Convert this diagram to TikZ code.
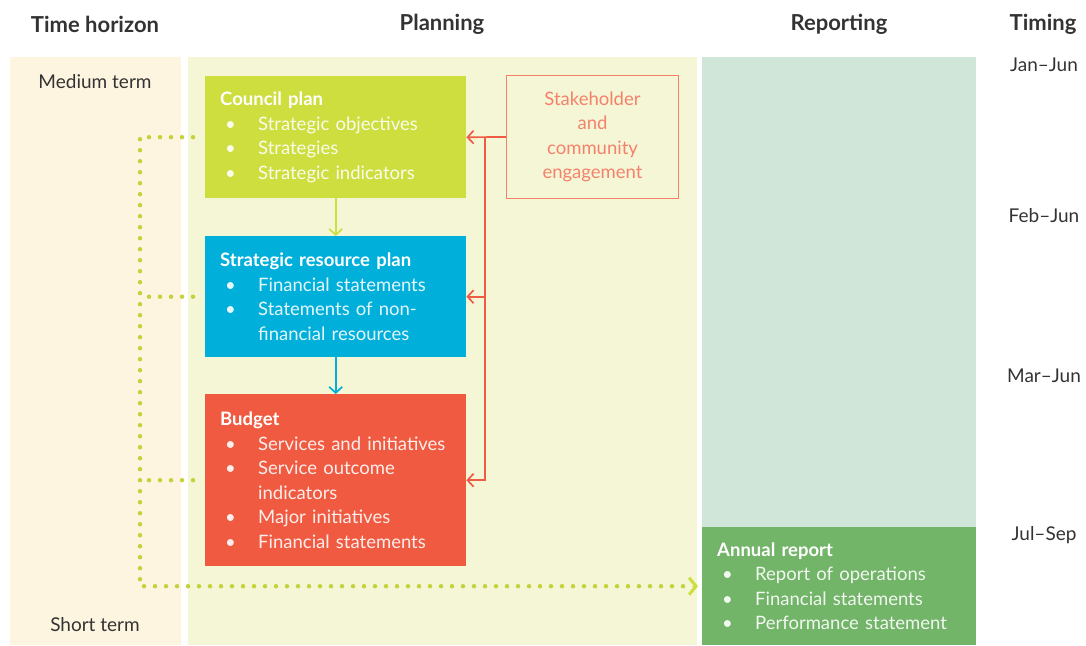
\documentclass[tikz,border=0pt]{standalone}
\usepackage{fontspec}
\setmainfont{Lato}
\usepackage{xcolor}
\usetikzlibrary{arrows.meta}

\definecolor{horizoncol}{HTML}{FDF5E0}
\definecolor{planningcol}{HTML}{F5F6D6}
\definecolor{reportingcol}{HTML}{CFE6D8}
\definecolor{annualgreen}{HTML}{72B468}
\definecolor{councilgreen}{HTML}{CEDE3F}
\definecolor{resourceblue}{HTML}{00AFDA}
\definecolor{budgetred}{HTML}{EF5A41}
\definecolor{stakered}{HTML}{F4826B}
\definecolor{arrowred}{HTML}{EE5C45}
\definecolor{labelgray}{HTML}{333333}

\newcommand{\itm}[1]{\makebox[38pt][l]{\hspace{5pt}\textbullet}#1}
\newcommand{\cont}[1]{\hspace*{38pt}#1}

\tikzset{
  box/.style={anchor=north west, minimum width=261pt, text width=231pt, inner xsep=15pt,
    align=left, text=white, font=\fontsize{18.5}{24.5}\selectfont},
  head/.style={text=labelgray, font=\fontsize{22}{26}\selectfont\bfseries},
  tlabel/.style={text=labelgray, font=\fontsize{19}{22}\selectfont},
  dotline/.style={councilgreen!95!black, line width=4.5pt, dash pattern=on 0pt off 11pt, line cap=round},
  redline/.style={arrowred, line width=1.7pt},
  barb/.style={-{Straight Barb[length=6pt,width=13pt,line width=1.7pt]}}
}

\begin{document}
\begin{tikzpicture}[x=1pt,y=-1pt]
\useasboundingbox (0,0) rectangle (1086,645);

\fill[horizoncol] (10,57) rectangle (181,645);
\fill[planningcol] (188,57) rectangle (697,645);
\fill[reportingcol] (702,57) rectangle (976,527);

\node[head] (horizon) at (95,24) {Time horizon};
\node[head] (planning) at (442,24) {Planning};
\node[head] (reporting) at (839,24) {Reporting};
\node[head] (timing) at (1043,24) {Timing};

\node[tlabel] (medium) at (95,82) {Medium term};
\node[tlabel] (short) at (95,625) {Short term};

\node[tlabel] (janjun) at (1044,65) {Jan–Jun};
\node[tlabel] (febjun) at (1044,216) {Feb–Jun};
\node[tlabel] (marjun) at (1044,376) {Mar–Jun};
\node[tlabel] (julsep) at (1044,535) {Jul–Sep};

\node[box, fill=councilgreen, minimum height=122pt] (council) at (205,76) {
\textbf{Council plan}\\
\color{white!90!councilgreen}
\itm{Strategic objectives}\\
\itm{Strategies}\\
\itm{Strategic indicators}};

\node[box, fill=resourceblue, minimum height=121pt] (resource) at (205,236) {
\textbf{Strategic resource plan}\\
\color{white!90!resourceblue}
\itm{Financial statements}\\
\itm{Statements of non-}\\
\cont{financial resources}};

\node[box, fill=budgetred, minimum height=172pt] (budget) at (205,394) {
\textbf{Budget}\\
\color{white!90!budgetred}
\itm{Services and initiatives}\\
\itm{Service outcome}\\
\cont{indicators}\\
\itm{Major initiatives}\\
\itm{Financial statements}};

\node[box, fill=annualgreen, minimum width=274pt, text width=244pt, minimum height=118pt] (annual) at (702,527) {
\textbf{Annual report}\\
\color{white!90!annualgreen}
\itm{Report of operations}\\
\itm{Financial statements}\\
\itm{Performance statement}};

\node[anchor=north west, draw=stakered, line width=1pt, minimum width=172pt, minimum height=123pt,
  align=center, text=stakered, font=\fontsize{18.5}{24.5}\selectfont] (stake) at (506,75)
  {Stakeholder\\and\\community\\engagement};

\draw[councilgreen, line width=1.7pt, barb] (council) -- (resource);
\draw[resourceblue, line width=1.7pt, barb] (resource) -- (budget);

\coordinate (rjoin) at ([xshift=-21pt]stake.west);
\draw[redline, barb] (stake.west) -- (council.east);
\draw[redline, barb] (rjoin) |- (resource.east);
\draw[redline, barb] (rjoin) |- (budget.east);

\coordinate (spine) at ([xshift=-65pt]council.west);
\coordinate (corner) at (spine |- annual.west);
\draw[dotline] ([xshift=-12pt]resource.west) -- (resource.west -| spine);
\draw[dotline] ([xshift=-12pt]budget.west) -- (budget.west -| spine);
\draw[dotline] ([xshift=-12pt]council.west) -- (spine) -- (corner) -- ([xshift=-8pt]annual.west);
\draw[councilgreen, -{Straight Barb[length=7pt,width=17pt,line width=3pt]}] ([xshift=-10pt]annual.west) -- ([xshift=-4pt]annual.west);
\end{tikzpicture}
\end{document}
